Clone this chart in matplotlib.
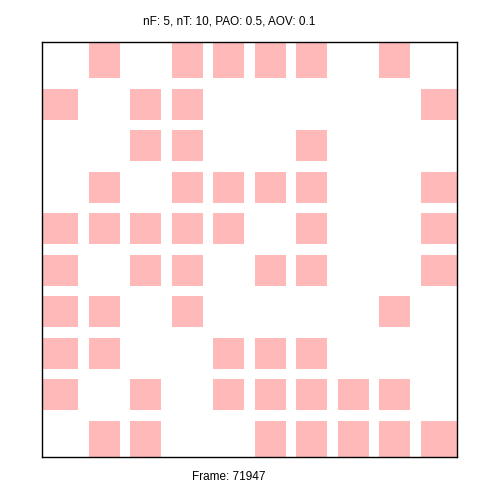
import matplotlib
matplotlib.use("Agg")
import matplotlib.pyplot as plt
from matplotlib.patches import Rectangle

# Gefüllte Zellen je Zeile (Zeile 0 = oben), Spalten 0..9
n = 10
rows = [
    [1, 3, 4, 5, 6, 8],
    [0, 2, 3, 9],
    [2, 3, 6],
    [1, 3, 4, 5, 6, 9],
    [0, 1, 2, 3, 4, 6, 9],
    [0, 2, 3, 5, 6, 9],
    [0, 1, 3, 8],
    [0, 1, 4, 5, 6],
    [0, 2, 4, 5, 6, 7, 8],
    [1, 2, 5, 6, 7, 8, 9],
]
title = "nF: 5, nT: 10, PAO: 0.5, AOV: 0.1"
frame = "Frame: 71947"

plt.rcParams['font.family'] = ['Liberation Sans', 'DejaVu Sans']

fig = plt.figure(figsize=(5, 5), dpi=100)
ax = fig.add_axes([42 / 500, 43 / 500, 415 / 500, 415 / 500])

g = 0.13
farbe = "#ffb9b9"
for r, cols in enumerate(rows):
    y = n - 1 - r
    for c in cols:
        x0 = 0 if c == 0 else c + g
        x1 = n if c == n - 1 else c + 1 - g
        y0 = 0 if y == 0 else y + g
        y1 = n if y == n - 1 else y + 1 - g
        ax.add_patch(Rectangle((x0, y0), x1 - x0, y1 - y0, facecolor=farbe, edgecolor="none"))

ax.set_xlim(0, n)
ax.set_ylim(0, n)
ax.set_xticks([])
ax.set_yticks([])
for s in ax.spines.values():
    s.set_linewidth(1.0)

fig.text(229 / 500, 1 - 21 / 500, title, ha="center", va="center", fontsize=8.5)
fig.text(229 / 500, 1 - 477 / 500, frame, ha="center", va="center", fontsize=8.5)

fig.savefig("out.png", dpi=100)
